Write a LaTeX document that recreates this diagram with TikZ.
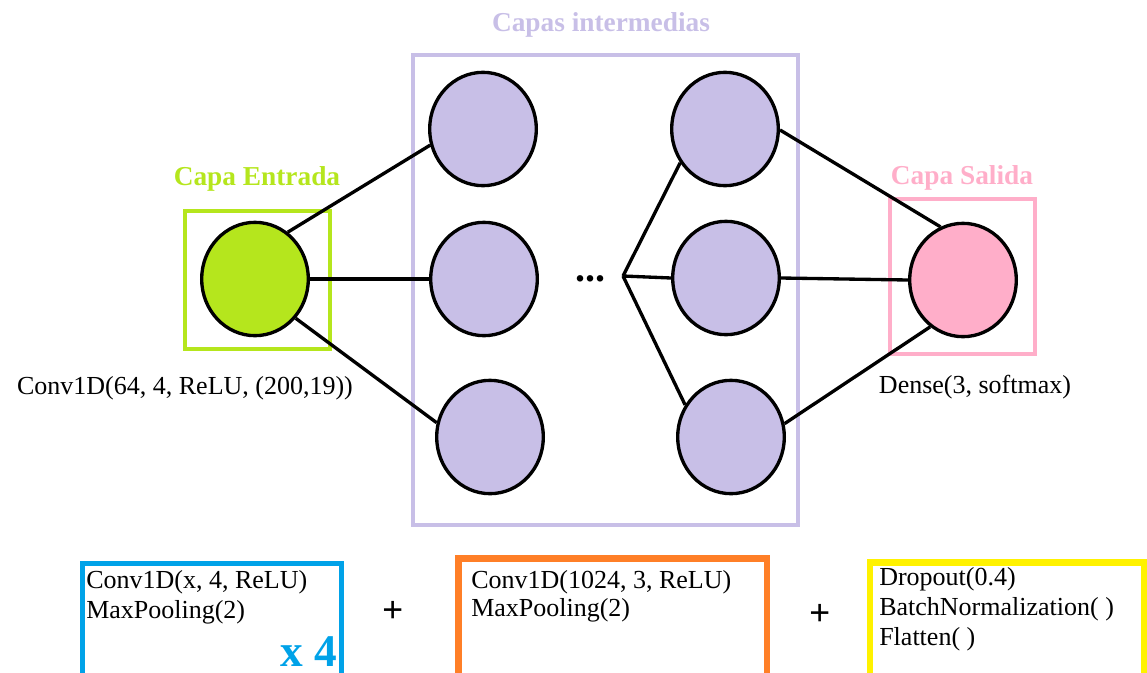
\documentclass[tikz,border=0pt]{standalone}
\usepackage{fontspec}
\setmainfont{Liberation Serif}
\usetikzlibrary{shapes.geometric}

\definecolor{inputcol}{HTML}{B5E61D}
\definecolor{hiddencol}{HTML}{C8BFE7}
\definecolor{outputcol}{HTML}{FFAEC9}
\definecolor{blockblue}{HTML}{00A2E8}
\definecolor{blockorange}{HTML}{FF7F27}
\definecolor{blockyellow}{HTML}{FFF200}

\begin{document}
\begin{tikzpicture}[x=0.75pt,y=-0.75pt,
  neuron/.style={ellipse,draw=black,line width=2.5pt,inner sep=0pt,
    minimum width=80pt,minimum height=85pt},
  link/.style={line width=2.5pt},
  frame/.style={rectangle,draw,inner sep=0pt},
  txt/.style={inner sep=0pt,font=\fontsize{19.5}{22}\selectfont},
  heading/.style={inner sep=0pt,font=\fontsize{20.5}{23}\selectfont\bfseries},
  plus/.style={inner sep=0pt,font=\fontsize{28}{30}\selectfont\bfseries},
]
\clip (0,0) rectangle (1147,672);
\useasboundingbox (0,0) rectangle (1147,672);

% layer frames
\node[frame,draw=inputcol,line width=3pt,minimum width=108.75pt,minimum height=103.5pt] (fin) at (257.5,280) {};
\node[frame,draw=hiddencol,line width=3pt,minimum width=288.75pt,minimum height=352.5pt] (fmid) at (605.5,290) {};
\node[frame,draw=outputcol,line width=3pt,minimum width=109.1pt,minimum height=116.25pt] (fout) at (962.25,276.5) {};

% layer titles
\node[heading,text=inputcol,anchor=base] (tin) at (257,185) {Capa Entrada};
\node[heading,text=hiddencol,anchor=base] (tmid) at (601,31) {Capas intermedias};
\node[heading,text=outputcol,anchor=base] (tout) at (962,184) {Capa Salida};

% neurons
\node[neuron,fill=inputcol] (in) at (255,279) {};
\node[neuron,fill=hiddencol] (tl) at (483,129) {};
\node[neuron,fill=hiddencol] (ml) at (484,279) {};
\node[neuron,fill=hiddencol] (bl) at (490,437) {};
\node[neuron,fill=hiddencol] (tr) at (725,129) {};
\node[neuron,fill=hiddencol] (mr) at (726,278) {};
\node[neuron,fill=hiddencol] (br) at (731,437) {};
\node[neuron,fill=outputcol] (out) at (963,280) {};

% ellipsis between the hidden columns
\node[inner sep=0pt,anchor=base,font=\fontsize{30}{32}\selectfont\bfseries] (dots) at (590,281) {...};
\coordinate (fan) at (623,276);

% connections
\draw[link] (in.55) -- (tl.197);
\draw[link] (in.east) -- (ml.west);
\draw[link] (in.-44) -- (bl.165);
\draw[link] (fan) -- (tr.217);
\draw[link] (fan) -- (mr.west);
\draw[link] (fan) -- (br.145);
\draw[link] (tr.-1) -- (out.113);
\draw[link] (mr.east) -- (out.west);
\draw[link] (br.14) -- (out.235);

% layer descriptions
\node[txt,anchor=base] (din) at (185,394) {Conv1D(64, 4, ReLU, (200,19))};
\node[txt,anchor=base] (dout) at (975,393) {Dense(3, softmax)};

% blocks of the hidden part
\node[frame,draw=blockblue,line width=3.75pt,minimum width=194.6pt,minimum height=102.4pt] (bblue) at (212.25,631.75) {};
\node[frame,draw=blockorange,line width=5pt,minimum width=231.4pt,minimum height=106.1pt] (borange) at (612.75,629.25) {};
\node[frame,draw=blockyellow,line width=5pt,minimum width=205.5pt,minimum height=103.1pt] (byellow) at (1007,631.25) {};

\node[txt,anchor=base west] (b1a) at (86,588) {Conv1D(x, 4, ReLU)};
\node[txt,anchor=base west] (b1b) at (86,618) {MaxPooling(2)};
\node[inner sep=0pt,anchor=base east,text=blockblue,font=\fontsize{34}{36}\selectfont\bfseries] (rep) at (337,666) {x 4};

\node[txt,anchor=base west] (b2a) at (471,588) {Conv1D(1024, 3, ReLU)};
\node[txt,anchor=base west] (b2b) at (471,616) {MaxPooling(2)};

\node[txt,anchor=base west] (b3a) at (879,585) {Dropout(0.4)};
\node[txt,anchor=base west] (b3b) at (879,615) {BatchNormalization( )};
\node[txt,anchor=base west] (b3c) at (879,645) {Flatten( )};

\node[plus] (p1) at (393,612) {+};
\node[plus] (p2) at (820,615) {+};
\end{tikzpicture}
\end{document}
